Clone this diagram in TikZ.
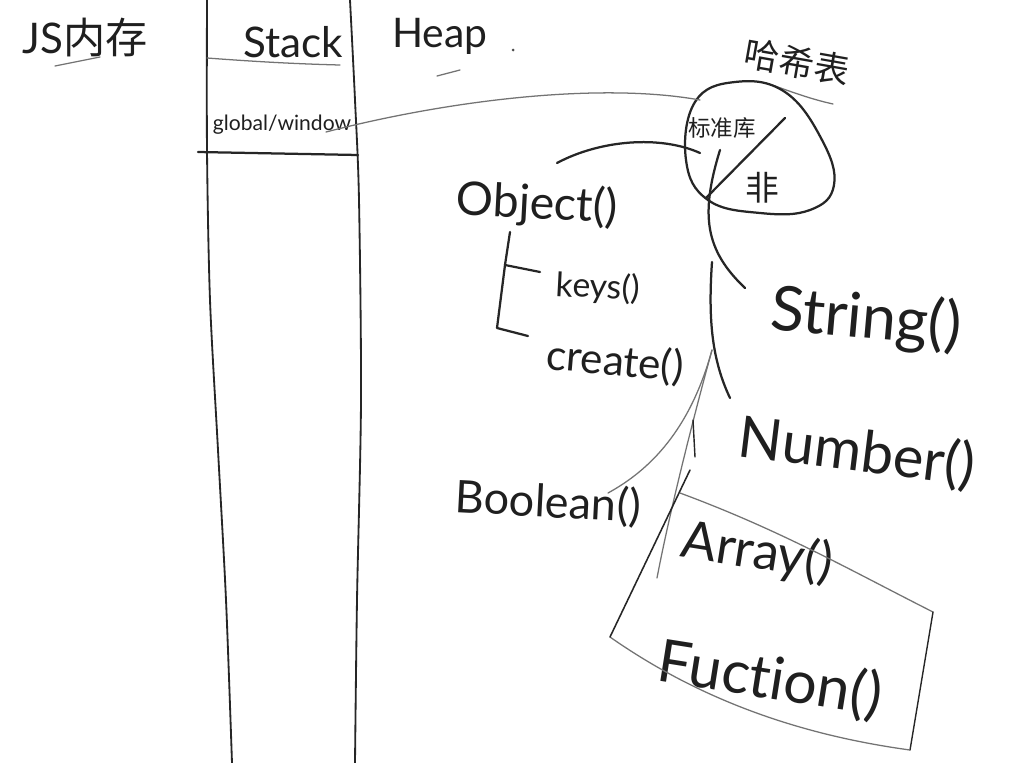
\documentclass[tikz,border=0pt]{standalone}
\usepackage{fontspec}
\setmainfont[Ligatures=NoCommon]{Lato}
\newfontfamily\cjk{Noto Sans CJK SC}
\begin{document}
\begin{tikzpicture}[x=0.025cm,y=-0.025cm,
  ink/.style={draw=black!85, line width=1.6pt, line cap=round, line join=round},
  pencil/.style={draw=black!55, line width=0.9pt, line cap=round},
  lbl/.style={text=black!88, inner sep=0pt, anchor=center}]
\useasboundingbox (0,0) rectangle (1014,763);
\fill[white] (0,0) rectangle (1014,763);

% ---- stack column ----
\draw[ink, line width=1.3pt] plot[smooth] coordinates {(207,0) (207,150) (210,300) (218,450) (226,600) (232,763)};
\draw[ink, line width=1.3pt] plot[smooth] coordinates {(350,0) (355,100) (359,200) (361,400) (357,600) (355,763)};
\draw[pencil] (207,58) .. controls (260,62) and (300,64) .. (340,65);
\draw[ink] (198,152) -- (358,155);

% ---- labels ----
\node[lbl, font=\fontsize{30}{30}\selectfont] (js) at (85,38) {JS\cjk 内存};
\draw[pencil] (55,66) -- (100,57);
\node[lbl, font=\fontsize{30}{30}\selectfont] (stack) at (293,42) {Stack};
\node[lbl, font=\fontsize{29}{29}\selectfont] (heap) at (440,36) {Heap};
\fill[black!70] (513,50) circle (1.5);
\draw[pencil] (437,76) -- (460,70);
\node[lbl, font=\fontsize{15}{15}\selectfont] (gw) at (282,125) {global/window};

% ---- hash table blob ----
\node[lbl, rotate=-10, font=\cjk\fontsize{25}{25}\selectfont] (hashlbl) at (797,62) {哈希表};
\draw[pencil] (775,86) .. controls (800,95) and (815,100) .. (833,104);
\coordinate (hash) at (760,150);
\draw[ink] plot[smooth cycle, tension=0.7] coordinates {(695,102) (735,82) (785,92) (822,140) (834,185) (810,210) (760,213) (708,200) (686,160)};
\draw[ink] (785,118) -- (706,198);
\node[lbl, font=\cjk\fontsize{16}{16}\selectfont] (std) at (722,128) {标准库};
\node[lbl, font=\cjk\fontsize{24}{24}\selectfont] (non) at (762,188) {非};

% global/window -> hash
\coordinate (gwout) at (326,132);
\coordinate (hashin) at (700,100);
\draw[pencil] (gwout) .. controls (450,100) and (600,82) .. (hashin);

% ---- heap objects ----
\node[lbl, rotate=-3, font=\fontsize{33}{33}\selectfont] (obj) at (537,205) {Object()};
\node[lbl, rotate=-3, font=\fontsize{24}{24}\selectfont] (keys) at (598,288) {keys()};
\node[lbl, rotate=-5, font=\fontsize{30}{30}\selectfont] (create) at (615,362) {create()};
\node[lbl, rotate=-5, font=\fontsize{44}{44}\selectfont] (string) at (866,320) {String()};
\node[lbl, rotate=-7, font=\fontsize{41}{41}\selectfont] (number) at (857,453) {Number()};
\node[lbl, rotate=-3, font=\fontsize{32}{32}\selectfont] (bool) at (548,503) {Boolean()};
\node[lbl, rotate=-9, font=\fontsize{37}{37}\selectfont] (array) at (757,553) {Array()};
\node[lbl, rotate=-9, font=\fontsize{42}{42}\selectfont] (func) at (770,680) {Fuction()};

% Object -> hash
\coordinate (objtop) at (557,163);
\coordinate (hashleft) at (700,153);
\draw[ink] (objtop) .. controls (600,140) and (660,135) .. (hashleft);

% Object bracket to keys / create
\coordinate (br0) at (510,232);
\coordinate (br1) at (505,265);
\coordinate (br2) at (497,328);
\coordinate (keysin) at (540,272);
\coordinate (createin) at (528,336);
\draw[ink] (br0) -- (br1) -- (br2) -- (createin);
\draw[ink] (br1) -- (keysin);

% hash -> String, Number
\coordinate (hashbot) at (720,150);
\coordinate (stringin) at (745,288);
\coordinate (split) at (712,262);
\coordinate (numberin) at (730,398);
\draw[ink] (hashbot) .. controls (700,215) and (705,250) .. (stringin);
\draw[ink] (split) .. controls (708,320) and (712,360) .. (numberin);

% gray branches -> Boolean, Array
\coordinate (gsplit) at (712,350);
\coordinate (boolin) at (608,493);
\coordinate (arrayin) at (657,578);
\draw[pencil] (gsplit) .. controls (690,430) and (650,470) .. (boolin);
\draw[pencil] (gsplit) .. controls (690,430) and (668,520) .. (arrayin);
\draw[ink, line width=1pt] (693,420) -- (695,457);

% box around Array / Fuction
\coordinate (bxA) at (680,493);
\coordinate (bxB) at (933,612);
\coordinate (bxC) at (910,750);
\coordinate (bxD) at (610,637);
\coordinate (bxT) at (690,470);
\draw[pencil] (bxA) .. controls (780,530) and (850,570) .. (bxB);
\draw[ink, line width=1pt] (bxB) -- (bxC);
\draw[pencil] (bxD) .. controls (700,700) and (800,735) .. (bxC);
\draw[ink, line width=1.1pt] (bxT) -- (bxD);
\end{tikzpicture}
\end{document}
